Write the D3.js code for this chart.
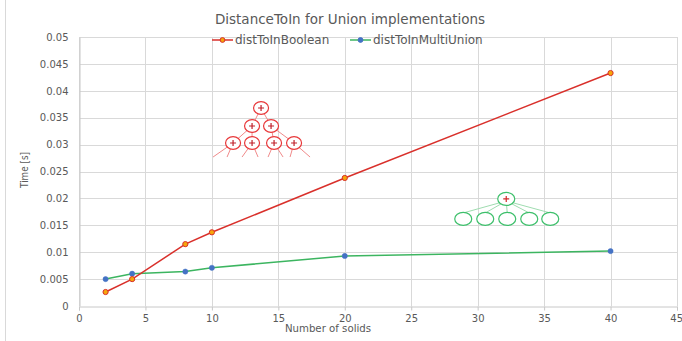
<!DOCTYPE html>
<html><head><meta charset="utf-8">
<script src="https://cdn.jsdelivr.net/npm/d3@7"></script>
<style>html,body{margin:0;padding:0;background:#fff;}svg{display:block;}</style>
</head><body>
<svg id="chart" width="682" height="341"></svg>
<script>
const solids = [2, 4, 8, 10, 20, 40];
const distToInBoolean = [0.0026, 0.0050, 0.0115, 0.0137, 0.0238, 0.0433];
const distToInMultiUnion = [0.0050, 0.0060, 0.0064, 0.0071, 0.0093, 0.0102];
const xTicks = [0, 5, 10, 15, 20, 25, 30, 35, 40, 45];
const yTicks = [0, 0.005, 0.01, 0.015, 0.02, 0.025, 0.03, 0.035, 0.04, 0.045, 0.05];
const seriesNames = ["distToInBoolean", "distToInMultiUnion"];
const title = "DistanceToIn for Union implementations";
const xTitle = "Number of solids";
const yTitle = "Time [s]";

const svg = d3.select("#chart");
const W = 682, H = 341;
const x = d3.scaleLinear().domain([0, 45]).range([79, 677]);
const y = d3.scaleLinear().domain([0, 0.05]).range([306, 37]);
const grid = "#d9d9d9", txt = "#595959";
const font = "DejaVu Sans, sans-serif";

// outer border (left edge)
svg.append("line").attr("x1", 5.5).attr("x2", 5.5).attr("y1", 0).attr("y2", H).attr("stroke", grid);

// gridlines
svg.append("g").selectAll("line").data(yTicks.slice(1)).join("line")
  .attr("x1", x(0)).attr("x2", x(45)).attr("y1", d => Math.round(y(d)) + 0.5).attr("y2", d => Math.round(y(d)) + 0.5)
  .attr("stroke", grid).attr("stroke-width", 1);
svg.append("g").selectAll("line").data(xTicks).join("line")
  .attr("x1", d => Math.round(x(d)) + 0.5).attr("x2", d => Math.round(x(d)) + 0.5).attr("y1", y(0.05)).attr("y2", y(0))
  .attr("stroke", grid).attr("stroke-width", 1);

// axes
const xAxis = d3.axisBottom(x).tickValues(xTicks).tickSize(4).tickPadding(4).tickFormat(d3.format("d"));
const gx = svg.append("g").attr("transform", `translate(0,${Math.round(y(0)) + 0.5})`).call(xAxis);
gx.select(".domain").attr("stroke", "#c8c8c8");
gx.selectAll(".tick line").attr("stroke", "#c8c8c8");
gx.selectAll("text").attr("fill", txt).attr("font-family", font).attr("font-size", "10px");
gx.selectAll(".tick").filter(d => d === 45).select("text").attr("text-anchor", "end").attr("dx", "5.5");

const yAxis = d3.axisLeft(y).tickValues(yTicks).tickSize(0).tickPadding(11).tickFormat(d => d === 0 ? "0" : String(+d.toFixed(3)));
const gy = svg.append("g").attr("transform", `translate(${Math.round(x(0)) + 0.5},0)`).call(yAxis);
gy.select(".domain").attr("stroke", "#c8c8c8");
gy.selectAll("text").attr("fill", txt).attr("font-family", font).attr("font-size", "10px");

// titles
svg.append("text").attr("x", 350).attr("y", 24).attr("text-anchor", "middle")
  .attr("font-family", font).attr("font-size", "13.5px").attr("fill", txt).text(title);
svg.append("text").attr("x", 328).attr("y", 332).attr("text-anchor", "middle")
  .attr("font-family", font).attr("font-size", "10.2px").attr("fill", txt).text(xTitle);
svg.append("text").attr("transform", "translate(28,170) rotate(-90)").attr("text-anchor", "middle")
  .attr("font-family", font).attr("font-size", "11px").attr("fill", txt)
  .attr("textLength", 36).attr("lengthAdjust", "spacingAndGlyphs").text(yTitle);

// annotation trees (decorative diagrams)
const redTreeAnchor = [13.7, 0.0368];
const greenTreeAnchor = [32.15, 0.0199];
const rt = svg.append("g").attr("transform", `translate(${x(redTreeAnchor[0])},${y(redTreeAnchor[1])})`);
const redNodes = [[0,0],[-9,18],[10,18],[-28,35],[-9,35],[13,35],[33,35]];
const redEdges = [[0,1],[0,2],[1,3],[1,4],[2,5],[2,6]];
const rLine = "#f08a8a", rCirc = "#e8383a";
redEdges.forEach(([a,b]) => {
  rt.append("line").attr("x1", redNodes[a][0]).attr("y1", redNodes[a][1]).attr("x2", redNodes[b][0]).attr("y2", redNodes[b][1])
    .attr("stroke", rLine).attr("stroke-width", 1);
});
// truncated child branches from leaves
[[3,-48,49],[3,-34,49],[4,-19,49],[4,-3,49],[5,7,49],[5,22,49],[6,29,49],[6,49,49]].forEach(([n,ex,ey]) => {
  rt.append("line").attr("x1", redNodes[n][0]).attr("y1", redNodes[n][1]).attr("x2", ex).attr("y2", ey)
    .attr("stroke", rLine).attr("stroke-width", 1);
});
redNodes.forEach(([cx,cy]) => {
  rt.append("ellipse").attr("cx", cx).attr("cy", cy).attr("rx", 7.5).attr("ry", 6.3)
    .attr("fill", "#fff").attr("stroke", rCirc).attr("stroke-width", 1.2);
  rt.append("path").attr("d", `M${cx-3},${cy}H${cx+3}M${cx},${cy-3}V${cy+3}`).attr("stroke", "#c0202a").attr("stroke-width", 1.2);
});

const gt = svg.append("g").attr("transform", `translate(${x(greenTreeAnchor[0])},${y(greenTreeAnchor[1])})`);
const gChildren = [-43, -21, 1, 23, 44];
const gLine = "#9fdcb0", gCirc = "#3cbf6a";
gChildren.forEach(cx => {
  gt.append("line").attr("x1", 0).attr("y1", 2).attr("x2", cx).attr("y2", 20 - 6)
    .attr("stroke", gLine).attr("stroke-width", 1);
});
gChildren.forEach(cx => {
  gt.append("ellipse").attr("cx", cx).attr("cy", 20).attr("rx", 8.5).attr("ry", 6.5)
    .attr("fill", "#fff").attr("stroke", gCirc).attr("stroke-width", 1.2);
});
gt.append("ellipse").attr("cx", 0).attr("cy", 0).attr("rx", 8.5).attr("ry", 6.5)
  .attr("fill", "#fff").attr("stroke", gCirc).attr("stroke-width", 1.2);
gt.append("path").attr("d", "M-3,0H3M0,-3V3").attr("stroke", "#d02a2a").attr("stroke-width", 1.2);

// series
const line = d3.line().x(d => x(d[0])).y(d => y(d[1]));
const boolData = solids.map((s, i) => [s, distToInBoolean[i]]);
const multiData = solids.map((s, i) => [s, distToInMultiUnion[i]]);
const redC = "#d9302b", greenC = "#3cb560", blueC = "#4472c4", orangeC = "#f5a60a";

svg.append("path").datum(multiData).attr("d", line).attr("fill", "none").attr("stroke", greenC).attr("stroke-width", 1.5);
svg.append("path").datum(boolData).attr("d", line).attr("fill", "none").attr("stroke", redC).attr("stroke-width", 1.5);
svg.append("g").selectAll("circle").data(multiData).join("circle")
  .attr("cx", d => x(d[0])).attr("cy", d => y(d[1])).attr("r", 2.6).attr("fill", blueC).attr("stroke", blueC).attr("stroke-width", 0.5);
svg.append("g").selectAll("circle").data(boolData).join("circle")
  .attr("cx", d => x(d[0])).attr("cy", d => y(d[1])).attr("r", 2.6).attr("fill", orangeC).attr("stroke", redC).attr("stroke-width", 1);

// legend
const leg = svg.append("g");
const legendItems = [
  {name: seriesNames[0], x0: 212, line: redC, fill: orangeC, stroke: redC},
  {name: seriesNames[1], x0: 350, line: greenC, fill: blueC, stroke: blueC}
];
legendItems.forEach(it => {
  leg.append("line").attr("x1", it.x0).attr("x2", it.x0 + 21).attr("y1", 40).attr("y2", 40).attr("stroke", it.line).attr("stroke-width", 1.5);
  leg.append("circle").attr("cx", it.x0 + 10.5).attr("cy", 40).attr("r", 2.4).attr("fill", it.fill).attr("stroke", it.stroke).attr("stroke-width", 1);
  leg.append("text").attr("x", it.x0 + 23).attr("y", 44).attr("font-family", font).attr("font-size", "12px").attr("fill", txt).text(it.name);
});
</script>
</body></html>
